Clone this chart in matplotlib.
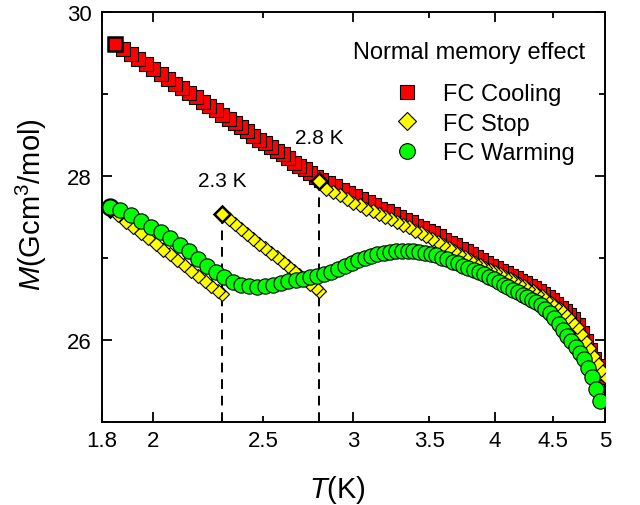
import matplotlib
matplotlib.use("Agg")
import matplotlib.pyplot as plt
from matplotlib.lines import Line2D
from matplotlib.ticker import MultipleLocator

plt.rcParams["font.family"] = ["Liberation Sans", "DejaVu Sans"]
plt.rcParams["mathtext.fontset"] = "custom"
plt.rcParams["mathtext.rm"] = "Liberation Sans"
plt.rcParams["mathtext.it"] = "Liberation Sans:italic"

# FC cooling curve, low T -> high T
cool_T = [1.85, 1.88, 1.91, 1.94, 1.97, 2.00, 2.03, 2.06, 2.09, 2.12, 2.15, 2.18, 2.21, 2.24,
          2.27, 2.30, 2.33, 2.36, 2.39, 2.42, 2.45, 2.48, 2.51, 2.54, 2.57, 2.60, 2.63, 2.66,
          2.69, 2.72, 2.75, 2.78, 2.81, 2.85, 2.89, 2.93, 2.97, 3.01, 3.05, 3.09, 3.13, 3.17,
          3.21, 3.25, 3.29, 3.33, 3.37, 3.41, 3.45, 3.49, 3.53, 3.57, 3.61, 3.65, 3.69, 3.73,
          3.77, 3.81, 3.85, 3.89, 3.93, 3.97, 4.01, 4.05, 4.09, 4.13, 4.17, 4.21, 4.25, 4.29,
          4.33, 4.37, 4.41, 4.45, 4.49, 4.53, 4.57, 4.61, 4.65, 4.69, 4.73, 4.77, 4.81, 4.85,
          4.89, 4.93, 4.97, 5.00]
cool_M = [29.61, 29.55, 29.48, 29.42, 29.36, 29.30, 29.24, 29.18, 29.12, 29.07, 29.01, 28.96,
          28.90, 28.85, 28.80, 28.74, 28.69, 28.64, 28.59, 28.54, 28.49, 28.44, 28.40, 28.35,
          28.30, 28.26, 28.21, 28.16, 28.12, 28.08, 28.03, 27.99, 27.95, 27.91, 27.87, 27.83,
          27.79, 27.75, 27.71, 27.68, 27.64, 27.60, 27.57, 27.53, 27.50, 27.46, 27.43, 27.39,
          27.36, 27.33, 27.30, 27.26, 27.22, 27.18, 27.15, 27.11, 27.08, 27.04, 27.01, 26.97,
          26.94, 26.90, 26.87, 26.84, 26.81, 26.78, 26.75, 26.72, 26.69, 26.66, 26.63, 26.60,
          26.56, 26.52, 26.48, 26.43, 26.39, 26.35, 26.30, 26.25, 26.18, 26.08, 25.98, 25.87,
          25.77, 25.68, 25.60, 25.54]

# FC with stops, in measurement order (cooling): 5 K -> 2.8 K, 2.8 K -> 2.3 K, 2.3 K -> 1.83 K
stop_hi_T = [5.00, 4.96, 4.92, 4.88, 4.84, 4.80, 4.76, 4.72, 4.68, 4.64, 4.60, 4.56, 4.52, 4.48,
             4.44, 4.40, 4.36, 4.32, 4.28, 4.24, 4.20, 4.16, 4.12, 4.08, 4.04, 4.00, 3.96, 3.92,
             3.88, 3.84, 3.80, 3.76, 3.72, 3.68, 3.64, 3.60, 3.56, 3.52, 3.48, 3.44, 3.40, 3.36,
             3.32, 3.28, 3.24, 3.20, 3.16, 3.12, 3.08, 3.04, 3.00, 2.96, 2.92, 2.88, 2.84, 2.80]
stop_hi_M = [25.56, 25.63, 25.71, 25.80, 25.90, 25.99, 26.07, 26.15, 26.22, 26.28, 26.33, 26.37,
             26.41, 26.45, 26.49, 26.53, 26.56, 26.59, 26.62, 26.65, 26.68, 26.71, 26.74, 26.77,
             26.80, 26.83, 26.85, 26.88, 26.91, 26.94, 26.97, 27.01, 27.04, 27.08, 27.12, 27.15,
             27.19, 27.23, 27.26, 27.30, 27.33, 27.37, 27.40, 27.43, 27.47, 27.50, 27.53, 27.57,
             27.60, 27.64, 27.67, 27.71, 27.76, 27.80, 27.84, 27.94]
stop_mid_T = [2.80, 2.78, 2.75, 2.72, 2.69, 2.66, 2.63, 2.60, 2.57, 2.54, 2.51, 2.48, 2.45, 2.42,
              2.39, 2.36, 2.33, 2.30]
stop_mid_M = [26.60, 26.63, 26.68, 26.74, 26.79, 26.84, 26.90, 26.95, 27.01, 27.06, 27.12, 27.17,
              27.23, 27.29, 27.35, 27.41, 27.47, 27.53]
stop_lo_T = [2.30, 2.28, 2.25, 2.22, 2.19, 2.16, 2.13, 2.10, 2.07, 2.04, 2.01, 1.98, 1.95, 1.92,
             1.89, 1.86, 1.83]
stop_lo_M = [26.56, 26.60, 26.66, 26.72, 26.78, 26.84, 26.91, 26.97, 27.04, 27.10, 27.17, 27.24,
             27.30, 27.37, 27.44, 27.52, 27.59]

# FC warming, low T -> high T
warm_T = [1.83, 1.87, 1.91, 1.95, 1.99, 2.03, 2.07, 2.11, 2.15, 2.19, 2.23, 2.27, 2.31, 2.35,
          2.39, 2.43, 2.47, 2.51, 2.55, 2.59, 2.63, 2.67, 2.71, 2.75, 2.79, 2.83, 2.87, 2.91,
          2.95, 2.99, 3.03, 3.07, 3.11, 3.15, 3.19, 3.23, 3.27, 3.31, 3.35, 3.39, 3.43, 3.47,
          3.51, 3.55, 3.59, 3.63, 3.67, 3.71, 3.75, 3.79, 3.83, 3.87, 3.91, 3.95, 3.99, 4.03,
          4.07, 4.11, 4.15, 4.19, 4.23, 4.27, 4.31, 4.35, 4.39, 4.43, 4.47, 4.51, 4.55, 4.59,
          4.63, 4.67, 4.71, 4.75, 4.79, 4.83, 4.87, 4.91, 4.95]
warm_M = [27.62, 27.58, 27.52, 27.45, 27.38, 27.31, 27.24, 27.16, 27.08, 26.99, 26.90, 26.82,
          26.76, 26.70, 26.67, 26.65, 26.64, 26.65, 26.67, 26.69, 26.71, 26.73, 26.74, 26.76,
          26.78, 26.80, 26.83, 26.86, 26.90, 26.94, 26.97, 27.00, 27.02, 27.04, 27.06, 27.07,
          27.08, 27.08, 27.08, 27.08, 27.07, 27.06, 27.04, 27.03, 27.00, 26.98, 26.95, 26.93,
          26.90, 26.88, 26.85, 26.83, 26.80, 26.77, 26.74, 26.70, 26.67, 26.64, 26.61, 26.58,
          26.55, 26.52, 26.49, 26.46, 26.42, 26.37, 26.32, 26.26, 26.19, 26.12, 26.05, 25.98,
          25.91, 25.84, 25.76, 25.66, 25.54, 25.40, 25.25]

stop_temps = [2.3, 2.8]
stop_tops = [27.53, 27.94]
stop_labels = ["2.3 K", "2.8 K"]
stop_label_M = [27.94, 28.47]

RED = "#ff0000"
YELLOW = "#ffff00"
GREEN = "#00ff00"

fig = plt.figure(figsize=(6.4, 5.06), dpi=100)
ax = fig.add_axes([0.1586, 0.1646, 0.7867, 0.8103])

# dashed guides from the axis up to the stop points
ax.vlines(stop_temps, 25, [m - 0.07 for m in stop_tops], colors="black",
          linestyles=(0, (5, 3.5)), linewidth=1.4, zorder=2)

# cooling curve drawn in measurement order (high T first)
ax.plot(cool_T[::-1], cool_M[::-1], ls="none", marker="s", ms=9.4, mfc=RED,
        mec="black", mew=0.8, zorder=3)
ax.plot(cool_T[0], cool_M[0], ls="none", marker="s", ms=9.8, mfc=RED,
        mec="black", mew=1.8, zorder=3)

stop_T = stop_hi_T + stop_mid_T + stop_lo_T
stop_M = stop_hi_M + stop_mid_M + stop_lo_M
ax.plot(stop_T, stop_M, ls="none", marker="D", ms=7.3, mfc=YELLOW,
        mec="black", mew=0.8, zorder=4)
ax.plot(stop_temps, stop_tops, ls="none", marker="D", ms=7.8, mfc=YELLOW,
        mec="black", mew=1.8, zorder=4)
ax.plot(stop_lo_T[-1], stop_lo_M[-1], ls="none", marker="D", ms=7.8, mfc=YELLOW,
        mec="black", mew=1.8, zorder=4)

ax.plot(warm_T[0], warm_M[0], ls="none", marker="o", ms=11.4, mfc=GREEN,
        mec="black", mew=1.8, zorder=5)
ax.plot(warm_T, warm_M, ls="none", marker="o", ms=11, mfc=GREEN,
        mec="black", mew=0.8, zorder=5)

for t, m, lab in zip(stop_temps, stop_label_M, stop_labels):
    ax.text(t, m, lab, fontsize=15, ha="center", va="center")

ax.set_xscale("log")
ax.set_xlim(1.8, 5)
ax.set_ylim(25, 30)
ax.set_xticks([1.8, 2, 3, 4, 5], labels=["1.8", "2", "3", "4", "5"])
ax.set_xticks([2.5, 3.5, 4.5], labels=["2.5", "3.5", "4.5"], minor=True)
ax.yaxis.set_major_locator(MultipleLocator(2))
ax.yaxis.set_minor_locator(MultipleLocator(1))
ax.tick_params(which="both", direction="in", top=True, right=True, width=1.3,
               labelsize=16)
ax.tick_params(which="major", length=7)
ax.tick_params(which="minor", length=4.5)
ax.tick_params(axis="x", which="both", pad=6)
ax.tick_params(axis="y", which="both", pad=7)
for sp in ax.spines.values():
    sp.set_linewidth(1.4)

ax.set_xlabel("$T$(K)", fontsize=21)
ax.set_ylabel("$M$(Gcm$^3$/mol)", fontsize=21)
ax.xaxis.set_label_coords(0.468, -0.125)
ax.yaxis.set_label_coords(-0.104, 0.531)

# legend
ax.text(0.73, 0.901, "Normal memory effect", transform=ax.transAxes, fontsize=17,
        ha="center", va="center")
handles = [
    Line2D([], [], ls="none", marker="s", ms=10, mfc=RED, mec="black", mew=0.8),
    Line2D([], [], ls="none", marker="D", ms=9.6, mfc=YELLOW, mec="black", mew=0.8),
    Line2D([], [], ls="none", marker="o", ms=11.3, mfc=GREEN, mec="black", mew=0.8),
]
ax.legend(handles, ["FC Cooling", "FC Stop", "FC Warming"], loc="upper left",
          bbox_to_anchor=(0.578, 0.826), frameon=False, fontsize=17, borderpad=0,
          borderaxespad=0, handlelength=1.2, handletextpad=0.95, labelspacing=0.32)

fig.savefig("out.png", dpi=100)
